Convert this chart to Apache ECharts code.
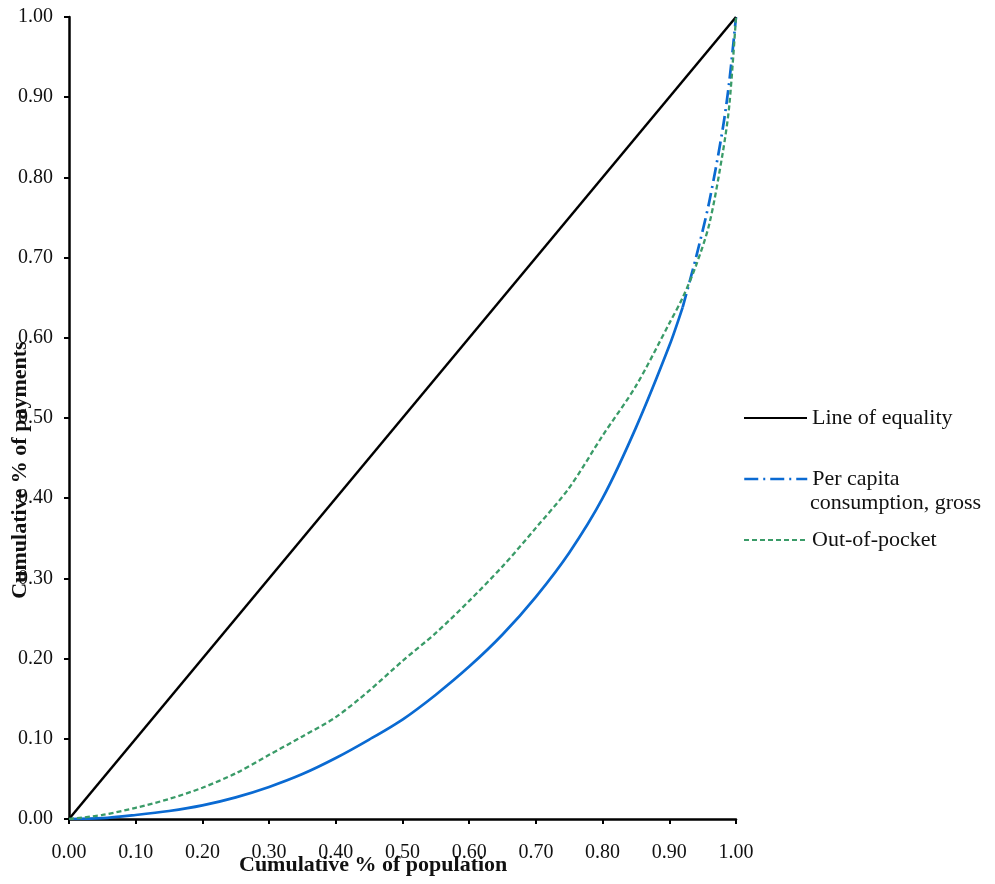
<!DOCTYPE html>
<html>
<head>
<meta charset="utf-8">
<script src="https://cdn.jsdelivr.net/npm/echarts@6/dist/echarts.min.js"></script>
<style>html,body{margin:0;padding:0;background:#fff}#c{width:995px;height:884px}</style>
</head>
<body>
<div id="c"></div>
<script>
var popShare = [0,0.05,0.10,0.15,0.20,0.25,0.30,0.35,0.40,0.45,0.50,0.55,0.60,0.65,0.70,0.75,0.80,0.85,0.90,0.92,0.94,0.96,0.98,0.99,1.00];
var equality = [0,1];
var perCapita = [0,0.001,0.005,0.010,0.017,0.027,0.040,0.056,0.076,0.099,0.124,0.155,0.190,0.230,0.277,0.332,0.400,0.488,0.590,0.638,0.700,0.770,0.860,0.920,1.000];
var outOfPocket = [0,0.005,0.014,0.025,0.039,0.057,0.080,0.103,0.127,0.160,0.197,0.232,0.272,0.315,0.363,0.413,0.478,0.540,0.618,0.650,0.690,0.742,0.830,0.890,1.000];

var serif = '"Liberation Serif","Times New Roman",serif';
var blue = '#0A6AD2', green = '#3A9B68';
function pairs(xs, ys){ return xs.map(function(x,i){ return [x, ys[i]]; }); }
var bluePts = pairs(popShare, perCapita);
var splitIdx = popShare.indexOf(0.92);
var legText = {fontFamily:serif,fontSize:22,color:'#111',lineHeight:26};

var chart = echarts.init(document.getElementById('c'));
chart.setOption({
  animation:false,
  grid:{left:69,right:259,top:17,bottom:65},
  xAxis:{type:'value',min:0,max:1,interval:0.1,
    axisLine:{lineStyle:{color:'#000',width:2.5}},
    axisTick:{length:5,lineStyle:{color:'#000',width:2}},
    splitLine:{show:false},
    axisLabel:{margin:24,color:'#111',fontFamily:serif,fontSize:20,formatter:function(v){return v.toFixed(2);}}},
  yAxis:{type:'value',min:0,max:1,interval:0.1,
    axisLine:{show:true,lineStyle:{color:'#000',width:2.5}},
    axisTick:{show:true,length:5,lineStyle:{color:'#000',width:2}},
    splitLine:{show:false},
    axisLabel:{margin:16,color:'#111',fontFamily:serif,fontSize:20,formatter:function(v){return v.toFixed(2);}}},
  legend:[
    {left:738,top:400,orient:'vertical',itemWidth:63,itemHeight:14,data:['Line of equality'],
      itemStyle:{opacity:0},textStyle:legText},
    {left:738,top:461,orient:'vertical',itemWidth:63,itemHeight:14,data:['Per capita consumption, gross'],
      formatter:function(){return 'Per capita';},
      itemStyle:{opacity:0},lineStyle:{type:[14,5,2,5],width:2.5},textStyle:legText},
    {left:738,top:522,orient:'vertical',itemWidth:63,itemHeight:14,data:['Out-of-pocket'],
      itemStyle:{opacity:0},textStyle:legText}
  ],
  graphic:[
    {type:'text',left:810,top:492,style:{text:'consumption, gross',font:'22px '+serif,fill:'#111'}},
    {type:'text',left:239,top:854,style:{text:'Cumulative % of population',font:'bold 22px '+serif,fill:'#111'}},
    {type:'text',x:9,y:470,rotation:Math.PI/2,style:{text:'Cumulative % of payments',font:'bold 22px '+serif,fill:'#111',align:'center',verticalAlign:'top'}}
  ],
  series:[
    {name:'Line of equality',type:'line',showSymbol:false,symbol:'none',data:pairs(equality,equality),
      lineStyle:{color:'#000',width:2.5},itemStyle:{color:'#000'},z:3},
    {name:'Per capita consumption, gross',type:'line',showSymbol:false,symbol:'none',smooth:0.3,
      data:bluePts.slice(0,splitIdx+1),lineStyle:{color:blue,width:2.7},itemStyle:{color:blue},z:2},
    {name:'Per capita consumption, gross',type:'line',showSymbol:false,symbol:'none',smooth:0.3,
      data:bluePts.slice(splitIdx),lineStyle:{color:blue,width:2.7,type:[14,5,2,5]},itemStyle:{color:blue},z:2},
    {name:'Out-of-pocket',type:'line',showSymbol:false,symbol:'none',smooth:0.3,
      data:pairs(popShare,outOfPocket),lineStyle:{color:green,width:2.3,type:[5,3]},itemStyle:{color:green},z:4}
  ]
});
</script>
</body>
</html>
